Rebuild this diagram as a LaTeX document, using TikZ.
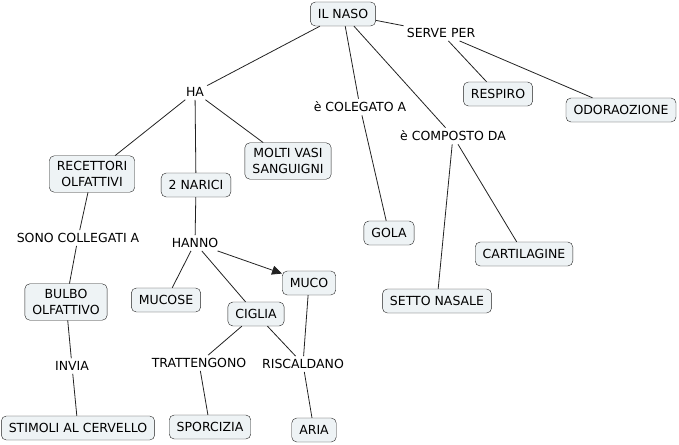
\documentclass[tikz,border=0pt]{standalone}
\usepackage{fontspec}
\setmainfont{DejaVu Sans}
\usepackage{xcolor,tikz}
\usetikzlibrary{arrows.meta}
\definecolor{cfill}{HTML}{EEF3F5}
\definecolor{cline}{HTML}{222222}
\tikzset{c/.style={draw=cline,fill=cfill,rounded corners=5pt,inner xsep=7.5pt,inner ysep=5.5pt,minimum height=24pt,align=center,font=\fontsize{12.5}{16}\selectfont},
 l/.style={inner sep=3pt,font=\fontsize{12.5}{16}\selectfont},
 wire/.style={draw=cline,line width=.8pt},flow/.style={wire,-{Triangle[length=10pt,width=9pt]}}}
\begin{document}
\begin{tikzpicture}[x=1pt,y=-1pt]
\useasboundingbox (0,0) rectangle (679,444);
% concetti
\node[c] (naso) at (343,14) {IL NASO};
\node[c] (resp) at (498,94) {RESPIRO};
\node[c] (odor) at (621,110) {ODORAOZIONE};
\node[c] (rec) at (92,174) {RECETTORI\\OLFATTIVI};
\node[c] (nar) at (196,185) {2 NARICI};
\node[c] (vasi) at (288,161) {MOLTI VASI\\SANGUIGNI};
\node[c] (gola) at (389,233) {GOLA};
\node[c] (cart) at (524,254) {CARTILAGINE};
\node[c] (sett) at (437,301) {SETTO NASALE};
\node[c] (bulbo) at (66,302) {BULBO\\OLFATTIVO};
\node[c] (stim) at (78,428) {STIMOLI AL CERVELLO};
\node[c] (mucose) at (166,300) {MUCOSE};
\node[c] (muco) at (309,283) {MUCO};
\node[c] (ciglia) at (256,314) {CIGLIA};
\node[c] (sporc) at (210,427) {SPORCIZIA};
\node[c] (aria) at (314,430) {ARIA};
% frasi legame
\node[l] (serve) at (441,33) {SERVE PER};
\node[l] (ha) at (195,92) {HA};
\node[l] (col) at (360,107) {è COLEGATO A};
\node[l] (comp) at (453,136) {è COMPOSTO DA};
\node[l] (sono) at (78,238) {SONO COLLEGATI A};
\node[l] (hanno) at (195,243) {HANNO};
\node[l] (invia) at (72,366) {INVIA};
\node[l] (tratt) at (199,363) {TRATTENGONO};
\node[l] (risc) at (303,364) {RISCALDANO};
% collegamenti
\draw[wire] (naso)--(ha) (ha)--(rec) (ha)--(nar) (ha)--(vasi);
\draw[wire] (naso)--(col) (col)--(gola);
\draw[wire] (naso)--(comp) (comp)--(sett) (comp)--(cart);
\draw[wire] (naso)--(serve) (serve)--(resp) (serve)--(odor);
\draw[wire] (rec)--(sono) (sono)--(bulbo) (bulbo)--(invia) (invia)--(stim);
\draw[wire] (nar)--(hanno) (hanno)--(mucose) (hanno)--(ciglia);
\draw[flow] (hanno)--(muco);
\draw[wire] (ciglia)--(tratt) (tratt)--(sporc) (ciglia)--(risc) (muco)--(risc) (risc)--(aria);
\end{tikzpicture}
\end{document}
